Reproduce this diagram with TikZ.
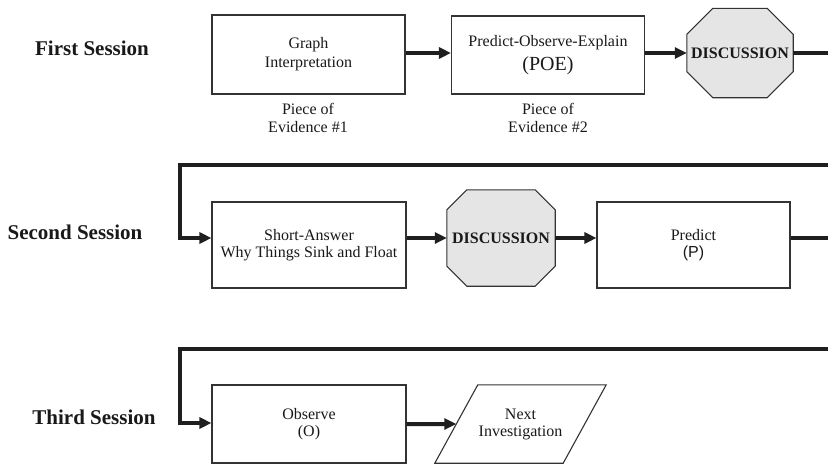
\documentclass[tikz,border=0pt]{standalone}
\usepackage{fontspec}
\setmainfont{Liberation Serif}
\newfontfamily\arialfont{Liberation Sans}
\usetikzlibrary{arrows.meta,backgrounds,calc}
\begin{document}
\begin{tikzpicture}[x=1pt,y=-1pt,
  box/.style={draw=black!80, line width=1.1pt, fill=white, minimum width=193pt, minimum height=79pt, align=center, inner sep=0pt, font=\fontsize{16}{19}\selectfont, text=black!90},
  lbl/.style={align=center, inner sep=0pt, font=\fontsize{16}{17.5}\selectfont, text=black!90},
  sess/.style={inner sep=0pt, font=\bfseries\fontsize{21}{25}\selectfont, text=black!90},
  disc/.style={minimum width=106pt, minimum height=89pt, inner sep=0pt, font=\bfseries\fontsize{16}{19}\selectfont, text=black!90},
  octo/.style={draw=black!80, line width=1.1pt, fill=black!10, line join=miter},
  flow/.style={line width=4pt, draw=black!88, line join=miter, -{Triangle[length=12pt,width=11pt]}},
  thick line/.style={line width=4pt, draw=black!88, line join=miter}
]
\useasboundingbox (0,0) rectangle (828,464);

% session labels
\node[sess] (s1) at (92,48) {First Session};
\node[sess] (s2) at (75,232) {Second Session};
\node[sess] (s3) at (94,417) {Third Session};

% ---------- row 1 ----------
\node[box] (gi) at (308.5,54.5) {Graph\\Interpretation};
\node[box, minimum height=78pt] (poe) at (548,55) {Predict-Observe-Explain\\[5pt]{\fontsize{20}{24}\selectfont (POE)}};
\node[disc] (d1) at (740,53) {DISCUSSION};
\node[lbl] (pe1) at (308,118) {Piece of\\Evidence \#1};
\node[lbl] (pe2) at (548,118) {Piece of\\Evidence \#2};
\coordinate (e1) at (828,53);

\begin{pgfonlayer}{background}
\draw[octo] ([xshift=26pt]d1.north west) -- ([xshift=-26pt]d1.north east) -- ([yshift=-26pt]d1.north east) -- ([yshift=26pt]d1.south east) -- ([xshift=-26pt]d1.south east) -- ([xshift=26pt]d1.south west) -- ([yshift=26pt]d1.south west) -- ([yshift=-26pt]d1.north west) -- cycle;
\end{pgfonlayer}

\draw[flow] (gi.east |- d1.west) -- (poe.west |- d1.west);
\draw[flow] (poe.east |- d1.west) -- (d1.west);
\draw[thick line] (d1.east) -- (e1);

% ---------- row 2 ----------
\coordinate (t2) at (828,164.5);
\coordinate (k2) at (180,164.5);
\coordinate (a2) at (180,238);
\coordinate (e2) at (828,238);
\node[box, minimum width=194pt, minimum height=86pt] (sa) at (309,245) {Short-Answer\\[-1.5pt]Why Things Sink and Float};
\node[disc, minimum width=108pt, minimum height=96pt] (d2) at (501,238) {DISCUSSION};
\node[box, minimum width=193pt, minimum height=86pt] (pr) at (693.5,245) {Predict\\[-1.5pt]{\arialfont (P)}};

\begin{pgfonlayer}{background}
\draw[octo] ([xshift=20pt]d2.north west) -- ([xshift=-20pt]d2.north east) -- ([yshift=-20pt]d2.north east) -- ([yshift=20pt]d2.south east) -- ([xshift=-20pt]d2.south east) -- ([xshift=20pt]d2.south west) -- ([yshift=20pt]d2.south west) -- ([yshift=-20pt]d2.north west) -- cycle;
\end{pgfonlayer}

\draw[flow] (t2) -- (k2) -- (a2) -- (sa.west |- a2);
\draw[flow] (sa.east |- d2.west) -- (d2.west);
\draw[flow] (d2.east) -- (pr.west |- d2.east);
\draw[thick line] (pr.east |- e2) -- (e2);

% ---------- row 3 ----------
\coordinate (t3) at (828,349);
\coordinate (k3) at (180,349);
\coordinate (a3) at (180,423);
\node[box, minimum width=194pt, minimum height=78pt] (ob) at (309,424) {Observe\\[-1.5pt](O)};
\node[align=center, inner sep=0pt, minimum width=171pt, minimum height=78pt, font=\fontsize{16}{17}\selectfont, text=black!90] (nx) at (520.5,424) {Next\\Investigation};
\draw[draw=black!80, line width=1.1pt] ([xshift=43pt]nx.north west) -- (nx.north east) -- ([xshift=-43pt]nx.south east) -- (nx.south west) -- cycle;

\draw[flow] (t3) -- (k3) -- (a3) -- (ob.west |- a3);
\draw[flow] (ob.east) -- ($(nx.south west)!0.5!([xshift=43pt]nx.north west)$);
\end{tikzpicture}
\end{document}
